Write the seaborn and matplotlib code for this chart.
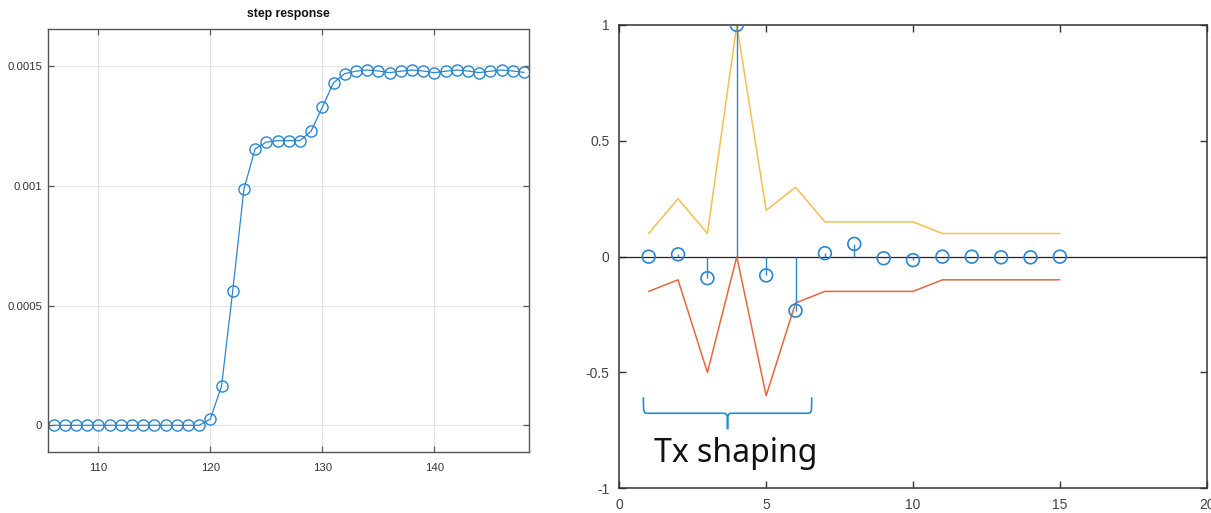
import numpy as np
import pandas as pd
import seaborn as sns
import matplotlib
matplotlib.use("Agg")
import matplotlib.pyplot as plt
from matplotlib.path import Path
from matplotlib.patches import PathPatch

# ---------------- data ----------------
# left panel: step response
step_n = list(range(106, 149))
step_y = [0.0] * 14 + [
    0.000026, 0.000164, 0.000561, 0.000986, 0.001154, 0.001182, 0.001188,
    0.001188, 0.001188, 0.001228, 0.001328, 0.001430, 0.001468, 0.001478,
    0.001483, 0.001479, 0.001472, 0.001478, 0.001483, 0.001479, 0.001472,
    0.001478, 0.001483, 0.001479, 0.001472, 0.001478, 0.001483, 0.001479,
    0.001473,
]
left_xticks = [110, 120, 130, 140]
left_yticks = [0, 0.0005, 0.001, 0.0015]
left_yticklabels = ["0", "0.0005", "0.001", "0.0015"]
left_title = "step response"

# right panel: tap values with upper / lower mask
tap_n = list(range(1, 16))
tap_val = [0.0, 0.01, -0.093, 1.0, -0.081, -0.233, 0.015, 0.055,
           -0.007, -0.015, 0.0, 0.0, -0.003, -0.003, 0.0]
mask_upper = [0.1, 0.25, 0.1, 1.0, 0.2, 0.3, 0.15, 0.15, 0.15, 0.15,
              0.1, 0.1, 0.1, 0.1, 0.1]
mask_lower = [-0.15, -0.1, -0.5, 0.0, -0.6, -0.2, -0.15, -0.15, -0.15,
              -0.15, -0.1, -0.1, -0.1, -0.1, -0.1]
right_xticks = [0, 5, 10, 15, 20]
right_yticks = [-1, -0.5, 0, 0.5, 1]
right_yticklabels = ["-1", "-0.5", "0", "0.5", "1"]
annot_text = "Tx shaping"
brace_span = (0.82, 6.55)   # x extent of brace (data units)
brace_levels = (-0.607, -0.676, -0.745)  # top of ends, bar, tip
annot_pos = (3.97, -0.885)

# ---------------- style ----------------
sns.set_theme(style="white")
plt.rcParams["font.family"] = ["Liberation Sans", "DejaVu Sans"]

BLUE = "#2a86cf"
YELLOW = "#f2c04e"
ORANGE = "#e4683c"
SPINE = "#555555"
TXT = "#333333"

fig = plt.figure(figsize=(12.11, 5.13), dpi=100)
axL = fig.add_axes([0.0394, 0.1189, 0.3972, 0.8240])
axR = fig.add_axes([0.5114, 0.0481, 0.4851, 0.9032])

# ---------- left panel ----------
dfL = pd.DataFrame({"n": step_n, "y": step_y})
sns.lineplot(data=dfL, x="n", y="y", ax=axL, color=BLUE, linewidth=0.9,
             marker="o", markersize=8, markerfacecolor="none",
             markeredgecolor=BLUE, markeredgewidth=1.0)
axL.set_xlim(105.48, 148.43)
axL.set_ylim(-0.0001115, 0.001653)
axL.set_xticks(left_xticks)
axL.set_xticklabels([str(t) for t in left_xticks])
axL.set_yticks(left_yticks)
axL.set_yticklabels(left_yticklabels)
axL.grid(True, color="#e3e3e3", linewidth=0.8)
axL.set_axisbelow(True)
axL.set_xlabel("")
axL.set_ylabel("")
axL.set_title(left_title, fontsize=8.8, fontweight="bold", color="#111111", pad=9)
for s in axL.spines.values():
    s.set_color(SPINE)
    s.set_linewidth(1.0)
axL.tick_params(direction="in", length=4, width=0.9, color=SPINE,
                labelsize=8.2, labelcolor=TXT, top=True, right=True,
                bottom=True, left=True)
axL.tick_params(axis="x", pad=8)
axL.tick_params(axis="y", pad=4)

# ---------- right panel ----------
axR.axhline(0, color="#222222", linewidth=0.9, zorder=1)
dfM = pd.DataFrame({"n": tap_n, "upper": mask_upper, "lower": mask_lower})
sns.lineplot(data=dfM, x="n", y="upper", ax=axR, color=YELLOW, linewidth=1.1, zorder=2)
sns.lineplot(data=dfM, x="n", y="lower", ax=axR, color=ORANGE, linewidth=1.1, zorder=2)
axR.vlines(tap_n, 0, tap_val, color=BLUE, linewidth=1.0, zorder=3)
dfT = pd.DataFrame({"n": tap_n, "v": tap_val})
sns.scatterplot(data=dfT, x="n", y="v", ax=axR, s=85, marker="o",
                facecolors="none", edgecolor=BLUE, linewidth=1.2, zorder=4)
axR.set_xlim(0, 20)
axR.set_ylim(-1, 1)
axR.set_xticks(right_xticks)
axR.set_xticklabels([str(t) for t in right_xticks])
axR.set_yticks(right_yticks)
axR.set_yticklabels(right_yticklabels)
axR.set_xlabel("")
axR.set_ylabel("")
for s in axR.spines.values():
    s.set_color("#333333")
    s.set_linewidth(1.1)
axR.tick_params(direction="in", length=5, width=1.0, color="#333333",
                labelsize=10, labelcolor="#444444", top=True, right=True,
                bottom=True, left=True, pad=7)

# brace annotation
bx0, bx1 = brace_span
yt, yh, yp = brace_levels
bxc = (bx0 + bx1) / 2
dx = 0.18
verts = [
    (bx0, yt),
    (bx0, yh), (bx0, yh), (bx0 + dx, yh),
    (bxc - dx, yh),
    (bxc, yh), (bxc, yh), (bxc, yp),
    (bxc, yh), (bxc, yh), (bxc + dx, yh),
    (bx1 - dx, yh),
    (bx1, yh), (bx1, yh), (bx1, yt),
]
codes = [Path.MOVETO,
         Path.CURVE4, Path.CURVE4, Path.CURVE4,
         Path.LINETO,
         Path.CURVE4, Path.CURVE4, Path.CURVE4,
         Path.CURVE4, Path.CURVE4, Path.CURVE4,
         Path.LINETO,
         Path.CURVE4, Path.CURVE4, Path.CURVE4]
axR.add_patch(PathPatch(Path(verts, codes), facecolor="none",
                        edgecolor="#1e8fd2", linewidth=1.2, zorder=5))
axR.text(annot_pos[0], annot_pos[1], annot_text, ha="center", va="baseline",
         fontsize=23, color="#111111", family=["Noto Sans", "DejaVu Sans"])

fig.savefig("out.png", dpi=100)
